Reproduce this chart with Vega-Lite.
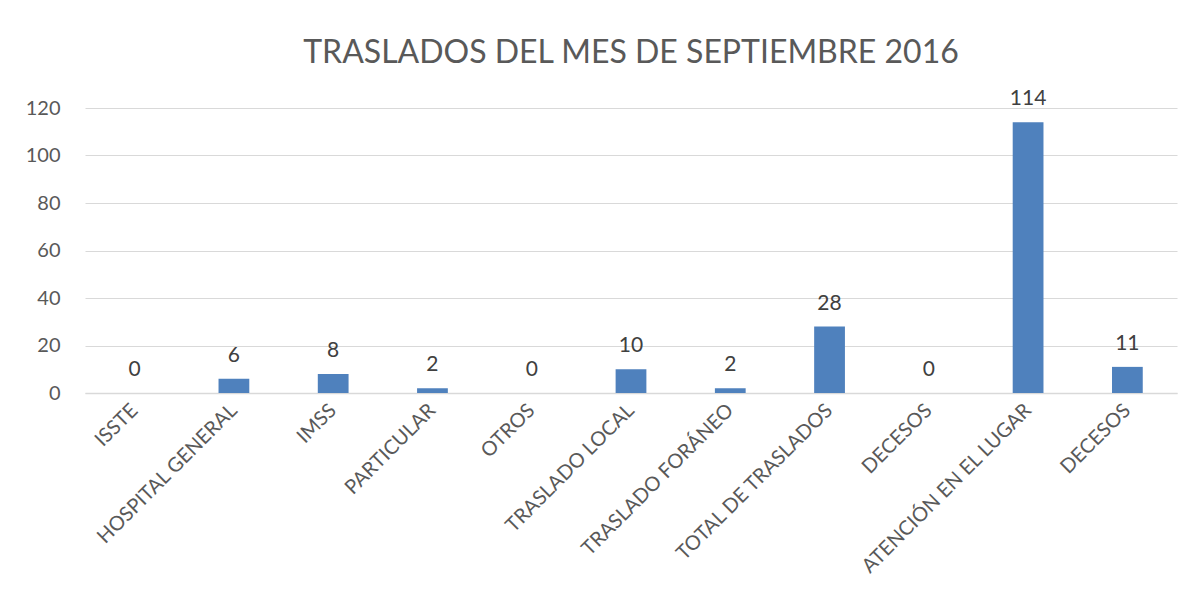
{
  "$schema": "https://vega.github.io/schema/vega-lite/v6.json",
  "autosize": "none",
  "width": 1092,
  "height": 285,
  "padding": {"left": 85, "top": 108, "right": 22, "bottom": 215},
  "background": "white",
  "title": {
    "text": "TRASLADOS DEL MES DE SEPTIEMBRE 2016",
    "font": "Lato",
    "fontSize": 32,
    "fontWeight": "normal",
    "color": "#595959",
    "anchor": "middle",
    "offset": 18
  },
  "data": {
    "values": [
      {"categoria": "ISSTE", "valor": 0},
      {"categoria": "HOSPITAL GENERAL", "valor": 6},
      {"categoria": "IMSS", "valor": 8},
      {"categoria": "PARTICULAR", "valor": 2},
      {"categoria": "OTROS", "valor": 0},
      {"categoria": "TRASLADO LOCAL", "valor": 10},
      {"categoria": "TRASLADO FORÁNEO", "valor": 2},
      {"categoria": "TOTAL DE TRASLADOS", "valor": 28},
      {"categoria": "DECESOS", "valor": 0},
      {"categoria": "ATENCIÓN EN EL LUGAR", "valor": 114},
      {"categoria": "DECESOS\u200b", "valor": 11}
    ]
  },
  "encoding": {
    "x": {
      "field": "categoria",
      "type": "nominal",
      "sort": null,
      "scale": {"paddingInner": 0.69, "paddingOuter": 0.345},
      "axis": {
        "title": null,
        "labelAngle": -45,
        "labelAlign": "right",
        "labelBaseline": "middle",
        "labelFont": "Lato",
        "labelFontSize": 20,
        "labelColor": "#595959",
        "labelPadding": 14,
        "labelLimit": 400,
        "labelOverlap": false,
        "ticks": false,
        "domain": true,
        "domainColor": "#d9d9d9",
        "domainWidth": 1.5,
        "grid": false
      }
    },
    "y": {
      "field": "valor",
      "type": "quantitative",
      "scale": {"domain": [0, 120], "nice": false},
      "axis": {
        "title": null,
        "values": [0, 20, 40, 60, 80, 100, 120],
        "labelFont": "Lato",
        "labelFontSize": 20,
        "labelColor": "#595959",
        "labelPadding": 25,
        "ticks": false,
        "domain": false,
        "grid": true,
        "gridColor": "#d9d9d9",
        "gridWidth": 1.2
      }
    }
  },
  "layer": [
    {"mark": {"type": "bar", "color": "#4f81bd"}},
    {
      "mark": {"type": "text", "baseline": "bottom", "dy": -13, "font": "Lato", "fontSize": 21, "color": "#404040"},
      "encoding": {"text": {"field": "valor", "type": "quantitative"}}
    }
  ],
  "config": {"view": {"stroke": null}}
}
